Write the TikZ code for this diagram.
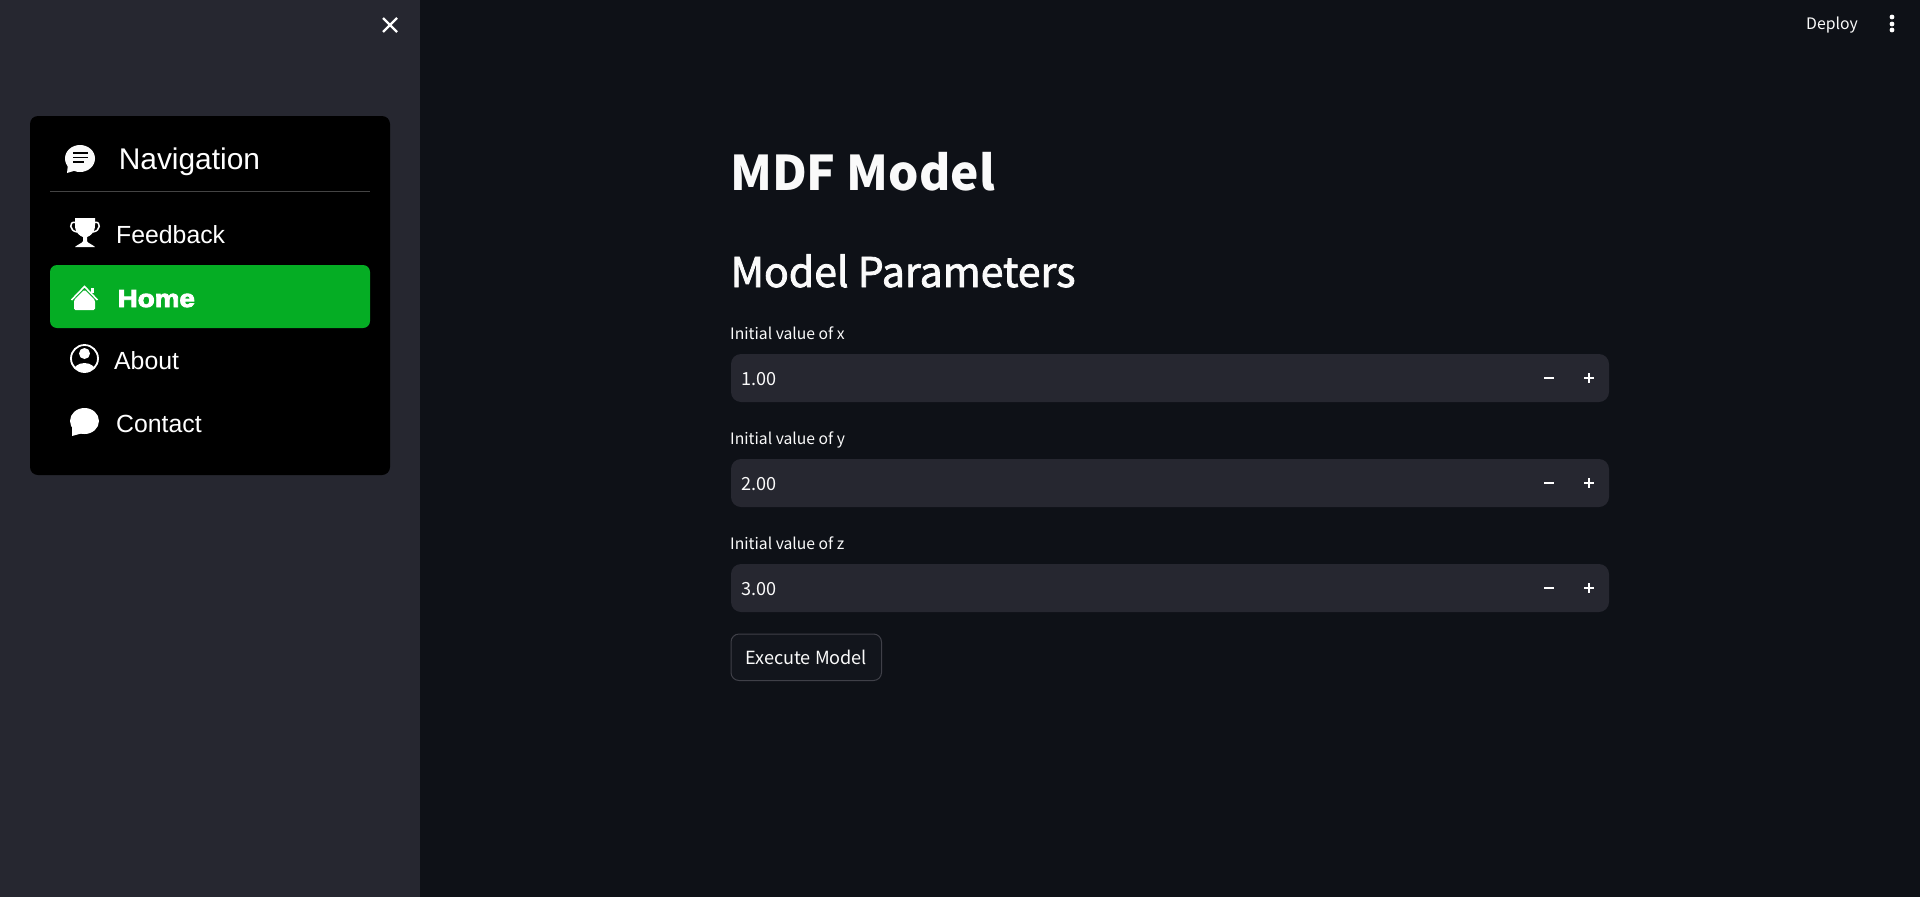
\documentclass[tikz,border=0pt]{standalone}
\usepackage{fontspec}
\setmainfont{Liberation Sans}
\newfontfamily\uifont{Noto Sans CJK SC}
\newfontfamily\homefont[FakeStretch=1.13]{Liberation Sans Bold}
\newcommand{\pxsize}[1]{\fontsize{#1}{#1}\selectfont}
\newcommand{\heavytext}[2]{\special{pdf:code 2 Tr #1 w}#2\special{pdf:code 0 Tr}}
\definecolor{sidebarbg}{HTML}{262730}
\definecolor{mainbg}{HTML}{0E1117}
\definecolor{activegreen}{HTML}{05AD24}
\definecolor{inktext}{HTML}{FAFAFA}
\definecolor{btnborder}{HTML}{3F4048}
\definecolor{btnfill}{HTML}{12151C}
\definecolor{cardrule}{HTML}{444444}
\tikzset{
  pagetext/.style={anchor=base west,inner sep=0pt,text=inktext},
  navtext/.style={pagetext,text=white,font=\pxsize{24.8}},
  uitext/.style={pagetext,font=\uifont\pxsize{18.1}},
  fieldlabel/.style={pagetext,font=\uifont\pxsize{15.7}},
  iconline/.style={white,line width=2pt},
}
\begin{document}
\begin{tikzpicture}[x=1pt,y=-1pt]
  % Draw the page
  \fill[mainbg] (0,0) rectangle (1920,897);
  \useasboundingbox (0,0) rectangle (1920,897);
  \fill[sidebarbg] (0,0) rectangle (420,897);
  \draw[iconline,line width=2.2pt] (383,18) -- (397,32) (397,18) -- (383,32);

  % Navigation card
  \fill[black,rounded corners=8pt] (30,116) rectangle (390,475);
  \draw[cardrule,line width=1pt] (50,191.5) -- (370,191.5);
  \fill[activegreen,rounded corners=7pt] (50,265) rectangle (370,328);

  \node[navtext,font=\pxsize{29.9}] (navtitle) at (118.6,169) {Navigation};
  \node[navtext] (feedback) at (116,243) {Feedback};
  \node[pagetext,text=white,font=\homefont\pxsize{24.6}] (home) at (117.5,307) {\heavytext{0.9}{Home}};
  \node[navtext] (about) at (114,369) {About};
  \node[navtext] (contact) at (116,432) {Contact};

  % Chat icon with text lines
  \fill[inktext] (80,158.5) ellipse (15 and 13.5);
  \fill[inktext] (68,164) -- (67,173) -- (77,170) -- cycle;
  \draw[black,line width=1.6pt] (73,153) -- (88,153) (73,157.5) -- (88,157.5) (73,162) -- (84,162);

  % Trophy icon
  \fill[white] (75,218) -- (95,218) -- (95,225) .. controls (95,233) and (90,236) .. (87,237)
    -- (87,241) .. controls (87,243) and (92,244) .. (95,247) -- (75,247)
    .. controls (78,244) and (83,243) .. (83,241) -- (83,237) .. controls (80,236) and (75,233) .. (75,225) -- cycle;
  \draw[white,line width=1.5pt] (75,222.5) .. controls (69,221) and (69,231) .. (77,232);
  \draw[white,line width=1.5pt] (95,222.5) .. controls (101,221) and (101,231) .. (93,232);

  % House icon
  \draw[white,line width=1.6pt] (71.5,300) -- (84.5,286.5) -- (97.5,300);
  \fill[white] (90.5,288) rectangle (93.5,293);
  \fill[white,rounded corners=1.5pt] (74,310) -- (74,300) -- (84.5,289.5) -- (95,300) -- (95,310) -- cycle;

  % Person icon
  \draw[white,line width=1.8pt] (84.5,358.5) circle (13.5);
  \fill[white] (84.5,353.5) circle (5.5);
  \begin{scope}
    \clip (84.5,358.5) circle (13.5);
    \fill[white] (84.5,373) ellipse (12 and 10);
  \end{scope}

  % Speech bubble icon
  \fill[white] (84.5,421) ellipse (14.5 and 13);
  \fill[white] (72,425) -- (72,436) -- (83,433) -- cycle;

  % Main column
  \node[pagetext,font=\uifont\bfseries\pxsize{47.8}] (pagetitle) at (730,190) {MDF Model};
  \node[pagetext,font=\uifont\pxsize{41}] (subtitle) at (730.5,287) {\heavytext{0.8}{Model Parameters}};

  % Draw the number inputs
  \foreach \name/\val [count=\i from 0] in {x/1.00,y/2.00,z/3.00} {
    \pgfmathsetmacro\ytop{354+105*\i}
    \fill[sidebarbg,rounded corners=10pt] (731,\ytop) rectangle (1609,\ytop+48);
    \node[fieldlabel] (label\name) at (730,\ytop-15) {Initial value of \name};
    \node[uitext] (value\name) at (741,\ytop+31) {\val};
    \draw[white,line width=2pt] (1544,\ytop+24) -- (1554,\ytop+24);
    \draw[white,line width=2pt] (1584,\ytop+24) -- (1594,\ytop+24) (1589,\ytop+19) -- (1589,\ytop+29);
  }

  % Button and toolbar
  \node[uitext,minimum width=150.5pt,minimum height=46.5pt,inner sep=0pt,draw=btnborder,fill=btnfill,
    rounded corners=8pt,anchor=north west,line width=1pt] (execute) at (730.5,633.5) {Execute Model};
  \node[pagetext,font=\uifont\pxsize{15.8}] (deploy) at (1806,29) {Deploy};
  \foreach \dy in {17,24,30} {
    \fill[white] (1892,\dy) circle (2.4);
  }
\end{tikzpicture}
\end{document}
